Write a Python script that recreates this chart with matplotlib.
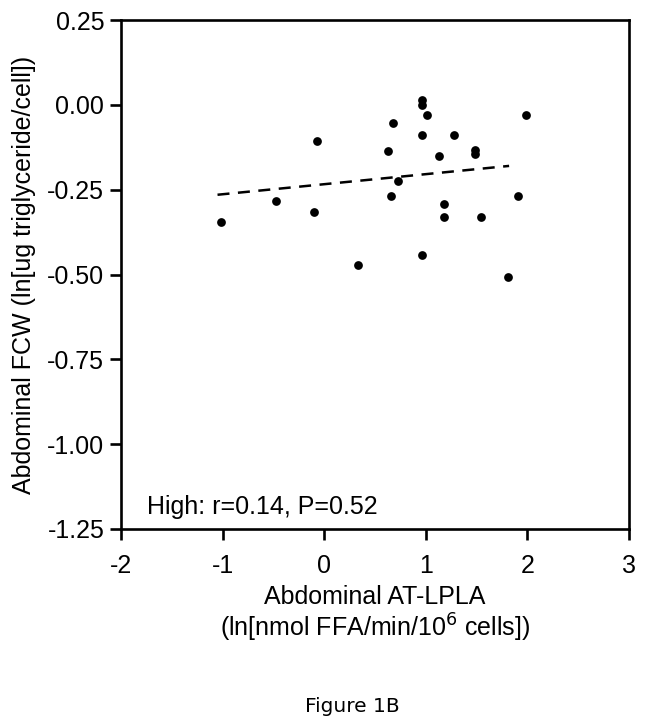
import matplotlib
matplotlib.use("Agg")
import matplotlib.pyplot as plt

# Data
lpla = [0.96, 0.96, 1.01, 1.99, 0.68, 0.96, 1.28, -0.07, 0.63, 1.48, 1.48, 1.13,
        0.73, -0.47, 0.655, 1.91, 1.18, -0.10, -1.02, 1.18, 1.54, 0.96, 0.335, 1.81]
fcw = [0.013, -0.001, -0.031, -0.031, -0.054, -0.090, -0.090, -0.107, -0.136, -0.134,
       -0.144, -0.151, -0.225, -0.284, -0.270, -0.270, -0.293, -0.315, -0.345, -0.331,
       -0.331, -0.442, -0.471, -0.508]
fit_x = [-1.05, 1.82]
fit_y = [-0.265, -0.180]
xticks = [-2, -1, 0, 1, 2, 3]
yticks = [0.25, 0.00, -0.25, -0.50, -0.75, -1.00, -1.25]
ytick_labels = ["0.25", "0.00", "-0.25", "-0.50", "-0.75", "-1.00", "-1.25"]

plt.rcParams['font.family'] = ['Liberation Sans', 'DejaVu Sans']

fig = plt.figure(figsize=(6.45, 7.22), dpi=100)
ax = fig.add_axes([121/645, 1-529/722, (629-121)/645, (529-20)/722])

ax.plot(lpla, fcw, 'o', color='black', markersize=6.3, markeredgewidth=0)
ax.plot(fit_x, fit_y, color='black', lw=1.8, linestyle=(0, (4.8, 3.4)))

ax.set_xlim(-2, 3)
ax.set_ylim(-1.25, 0.25)
ax.set_xticks(xticks)
ax.set_xticklabels([str(t) for t in xticks])
ax.set_yticks(yticks)
ax.set_yticklabels(ytick_labels)

for s in ax.spines.values():
    s.set_linewidth(1.9)
ax.tick_params(direction='out', length=8, width=1.9, labelsize=18, colors='black')
ax.tick_params(axis='x', pad=10)
ax.tick_params(axis='y', pad=4)

ax.set_xlabel("Abdominal AT-LPLA\n(ln[nmol FFA/min/10$^{6}$ cells])", fontsize=18, labelpad=5,
              linespacing=1.12)
ax.set_ylabel("Abdominal FCW (ln[ug triglyceride/cell])", fontsize=18, labelpad=8)

ax.text(-1.74, -1.185, "High: r=0.14, P=0.52", fontsize=18, va='center', ha='left')

fig.text(352/645, 1-706/722, "Figure 1B", fontsize=14.5, family='DejaVu Sans', ha='center', va='center')

fig.savefig("out.png", dpi=100)
